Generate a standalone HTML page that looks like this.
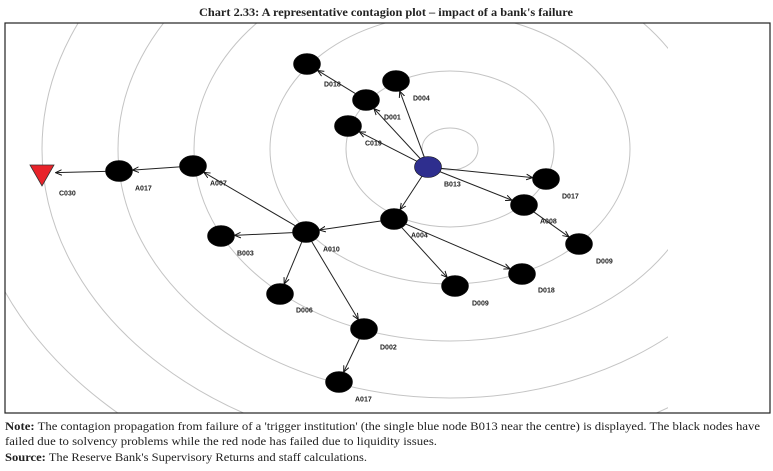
<!DOCTYPE html>
<html><head><meta charset="utf-8"><style>
html,body{margin:0;padding:0;background:#fff;width:773px;height:471px;overflow:hidden}
svg{display:block;position:absolute;left:0;top:0}
.lb{font-family:"Liberation Sans",sans-serif;font-size:7px;font-weight:bold;fill:#222}
.t{font-family:"Liberation Serif",serif;font-size:11.5px;fill:#222}
</style></head><body>
<svg id="s" width="773" height="471" viewBox="0 0 773 471" xmlns="http://www.w3.org/2000/svg">
<defs>
<clipPath id="c"><rect x="5" y="23" width="663" height="390"/></clipPath>
<marker id="ar" viewBox="0 0 10 10" refX="9" refY="5" markerWidth="7" markerHeight="7" orient="auto" markerUnits="userSpaceOnUse">
<path d="M0,1 L9,5 L0,9" fill="none" stroke="#111" stroke-width="1.4"/></marker>
</defs>
<text x="386" y="16" text-anchor="middle" class="t" font-weight="bold" textLength="374" lengthAdjust="spacingAndGlyphs">Chart 2.33: A representative contagion plot – impact of  a bank's failure</text>
<g id="rings" clip-path="url(#c)" fill="none" stroke="#c4c4c4" stroke-width="1"></g>
<rect x="5" y="23" width="765" height="390" fill="none" stroke="#222" stroke-width="1.2"/>
<g id="edges" stroke="#222" stroke-width="1"></g>
<g id="nodes"></g>
<text x="5" y="430" class="t" textLength="755" lengthAdjust="spacingAndGlyphs"><tspan font-weight="bold">Note:</tspan> The contagion propagation from failure of a 'trigger institution' (the single blue node B013 near the centre) is displayed. The black nodes have</text>
<text x="5" y="445" class="t" textLength="432" lengthAdjust="spacingAndGlyphs">failed due to solvency problems while the red node has failed due to liquidity issues.</text>
<text x="5" y="461" class="t" textLength="362" lengthAdjust="spacingAndGlyphs"><tspan font-weight="bold">Source:</tspan> The Reserve Bank's Supervisory Returns and staff calculations.</text>
</svg>
<script>
var NS="http://www.w3.org/2000/svg";
function el(t,a,p){var e=document.createElementNS(NS,t);for(var k in a)e.setAttribute(k,a[k]);document.getElementById(p).appendChild(e);return e;}
for(var k=0;k<7;k++){el("ellipse",{cx:450,cy:149,rx:28+76*k,ry:21+57*k},"rings");}
var N={
B013:[428,167,444,184],D004:[396,81,413,98],D018a:[307,64,324,84],D001:[366,100,384,117],C019:[348,126,365,143],
D017:[546,179,562,196],A008:[524,205,540,221],D009a:[579,244,596,261],D018b:[522,274,538,290],D009b:[455,286,472,303],
A004:[394,219,411,235],A010:[306,232,323,249],B003:[221,236,237,253],D006:[280,294,296,310],D002:[364,329,380,347],
A017b:[339,382,355,399],A007:[193,166,210,183],A017a:[119,171,135,188],C030:[42,173,59,193]};
var E=[["B013","D004"],["B013","D001"],["B013","C019"],["B013","D017"],["B013","A008"],["B013","A004"],["D001","D018a"],
["A008","D009a"],["A004","D009b"],["A004","D018b"],["A004","A010"],["A010","A007"],["A010","B003"],["A010","D006"],
["A010","D002"],["D002","A017b"],["A007","A017a"],["A017a","C030"]];
var RX=13.5,RY=10.5;
function bd(dx,dy){return 1/Math.sqrt(dx*dx/(RX*RX)+dy*dy/(RY*RY));}
E.forEach(function(e){var a=N[e[0]],b=N[e[1]];var dx=b[0]-a[0],dy=b[1]-a[1];
var t=bd(dx,dy);
el("line",{x1:a[0]+dx*t,y1:a[1]+dy*t,x2:b[0]-dx*t,y2:b[1]-dy*t,"marker-end":"url(#ar)"},"edges");});
for(var n in N){var p=N[n];
if(n=="C030"){el("polygon",{points:(p[0]-12)+","+(p[1]-8)+" "+(p[0]+12)+","+(p[1]-8)+" "+p[0]+","+(p[1]+13),fill:"#e8232a",stroke:"#333","stroke-width":0.8},"nodes");}
else{el("ellipse",{cx:p[0],cy:p[1],rx:RX,ry:RY,fill:n=="B013"?"#2e2e8e":"#000",stroke:"#111","stroke-width":0.6},"nodes");}
var t=el("text",{x:p[2],y:p[3]+2.5,"class":"lb"},"nodes");t.textContent=n.slice(0,4);}
</script>
</body></html>
